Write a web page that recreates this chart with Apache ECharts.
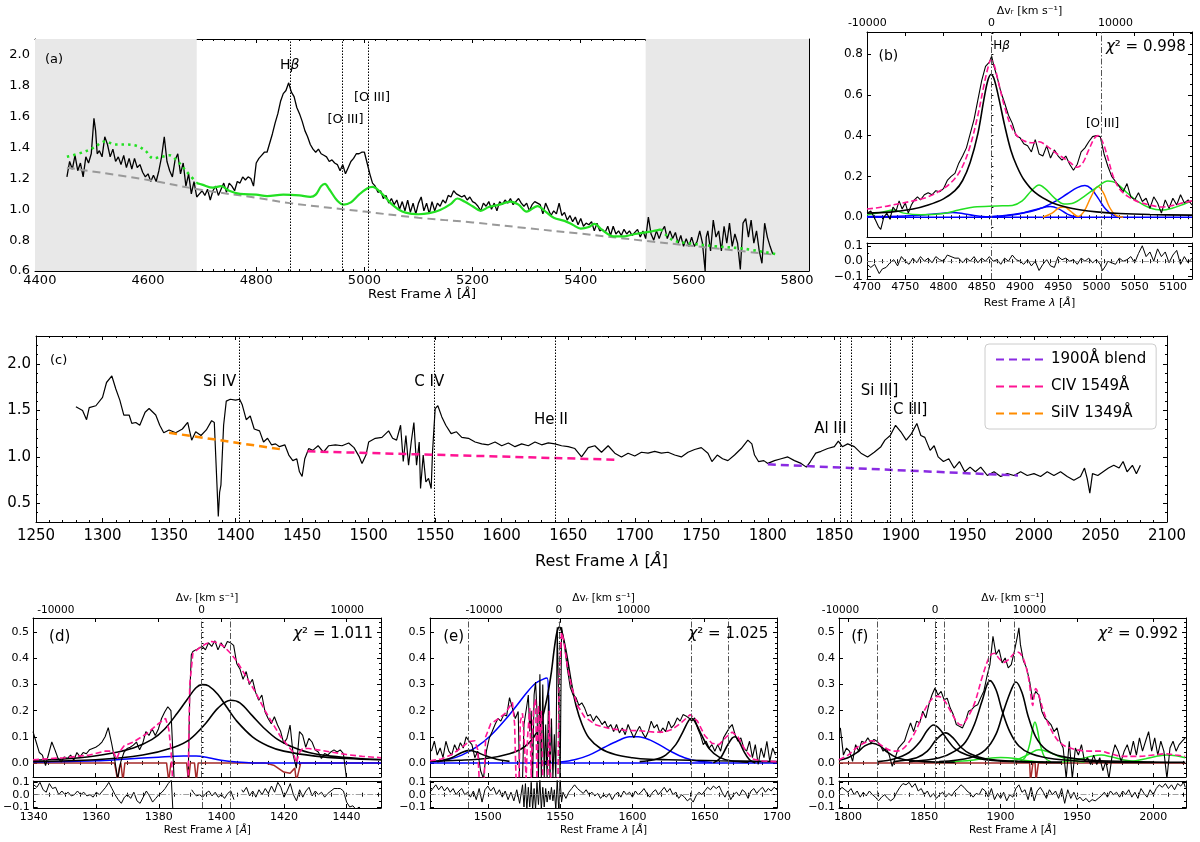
<!DOCTYPE html>
<html><head><meta charset="utf-8">
<script src="https://cdn.jsdelivr.net/npm/echarts@6/dist/echarts.min.js"></script>
<style>html,body{margin:0;padding:0;background:#fff}#c{width:1200px;height:842px}</style>
</head><body><div id="c"></div>
<script>
// ---------------- DATA ----------------
// Panel (a)
const A_XTICKS=[4400,4600,4800,5000,5200,5400,5600,5800];
const A_YTICKS=[0.6,0.8,1.0,1.2,1.4,1.6,1.8,2.0];
const A_LINES=[4862.68,4958.91,5006.84];
const A_MASKS=[[4391,4690],[5520,5822]];
const A_FLUX=[[4450,1.21],[4455,1.31],[4460,1.26],[4465,1.35],[4470,1.25],[4475,1.30],[4480,1.21],[4485,1.34],[4490,1.30],[4495,1.36],[4500,1.59],[4503,1.51],[4506,1.36],[4510,1.38],[4515,1.34],[4520,1.47],[4525,1.42],[4530,1.34],[4535,1.39],[4540,1.31],[4545,1.34],[4550,1.29],[4555,1.35],[4560,1.27],[4565,1.33],[4570,1.26],[4575,1.33],[4580,1.27],[4585,1.29],[4590,1.24],[4595,1.21],[4600,1.23],[4605,1.18],[4610,1.22],[4615,1.18],[4620,1.25],[4625,1.34],[4630,1.47],[4635,1.31],[4640,1.25],[4645,1.21],[4650,1.32],[4655,1.36],[4660,1.23],[4665,1.30],[4670,1.15],[4675,1.23],[4680,1.10],[4685,1.18],[4690,1.08],[4695,1.10],[4700,1.12],[4705,1.09],[4710,1.13],[4715,1.06],[4720,1.12],[4725,1.15],[4730,1.09],[4735,1.13],[4740,1.17],[4745,1.11],[4750,1.17],[4755,1.15],[4760,1.12],[4765,1.18],[4770,1.17],[4775,1.21],[4780,1.19],[4785,1.21],[4790,1.20],[4795,1.15],[4800,1.30],[4805,1.33],[4810,1.35],[4815,1.37],[4820,1.37],[4825,1.43],[4830,1.49],[4835,1.56],[4840,1.62],[4845,1.70],[4850,1.75],[4855,1.77],[4860,1.82],[4865,1.76],[4870,1.73],[4875,1.66],[4880,1.62],[4885,1.57],[4890,1.51],[4895,1.47],[4900,1.42],[4905,1.39],[4910,1.37],[4915,1.39],[4920,1.36],[4925,1.35],[4930,1.34],[4935,1.31],[4940,1.32],[4945,1.30],[4950,1.29],[4955,1.25],[4960,1.29],[4965,1.23],[4970,1.27],[4975,1.31],[4980,1.33],[4985,1.36],[4990,1.36],[4995,1.37],[5000,1.37],[5005,1.30],[5010,1.23],[5015,1.17],[5020,1.15],[5025,1.11],[5030,1.12],[5035,1.07],[5040,1.09],[5045,1.04],[5050,1.07],[5055,1.03],[5060,1.06],[5065,1.00],[5070,1.05],[5075,0.99],[5080,1.06],[5085,0.98],[5090,1.04],[5095,0.97],[5100,1.04],[5105,1.08],[5110,0.99],[5115,1.04],[5120,0.97],[5125,1.05],[5130,0.99],[5135,1.04],[5140,1.02],[5145,1.06],[5150,1.04],[5155,1.09],[5160,1.08],[5165,1.12],[5170,1.10],[5175,1.09],[5180,1.08],[5185,1.09],[5190,1.06],[5195,1.08],[5200,1.05],[5205,1.04],[5210,1.02],[5215,0.99],[5220,1.04],[5225,1.02],[5230,1.05],[5235,1.00],[5240,1.04],[5245,0.99],[5250,1.05],[5255,1.03],[5260,1.06],[5265,1.04],[5270,1.07],[5275,1.03],[5280,1.05],[5285,1.07],[5290,1.04],[5295,1.02],[5300,1.04],[5305,0.99],[5310,1.03],[5315,1.05],[5320,1.04],[5325,1.03],[5330,0.97],[5335,1.04],[5340,1.00],[5345,0.96],[5350,0.99],[5355,0.97],[5360,1.04],[5365,0.96],[5370,0.98],[5375,0.93],[5380,0.96],[5385,0.92],[5390,0.95],[5395,0.90],[5400,0.94],[5405,0.89],[5410,0.91],[5415,0.90],[5420,0.92],[5425,0.86],[5430,0.91],[5435,0.86],[5440,0.87],[5445,0.85],[5450,0.89],[5455,0.83],[5460,0.89],[5465,0.84],[5470,0.86],[5475,0.83],[5480,0.87],[5485,0.84],[5490,0.86],[5495,0.83],[5500,0.85],[5505,0.87],[5510,0.82],[5515,0.86],[5520,0.81],[5525,0.95],[5530,0.84],[5535,0.80],[5540,0.86],[5545,0.81],[5550,0.86],[5555,0.89],[5560,0.81],[5565,0.86],[5570,0.81],[5575,0.85],[5580,0.78],[5585,0.83],[5590,0.76],[5595,0.81],[5600,0.76],[5605,0.82],[5610,0.76],[5615,0.79],[5620,0.86],[5625,0.78],[5630,0.60],[5632,0.82],[5635,0.86],[5640,0.73],[5645,0.93],[5650,0.82],[5655,0.86],[5660,0.73],[5665,0.89],[5670,0.78],[5675,0.91],[5680,0.76],[5685,0.84],[5690,0.78],[5695,0.61],[5700,0.91],[5705,0.94],[5710,0.82],[5715,0.93],[5720,0.78],[5725,0.86],[5730,0.73],[5735,0.65],[5740,0.91],[5745,0.82],[5750,0.76],[5755,0.71]];
const A_CONT=[[4450,1.27],[4600,1.19],[4700,1.125],[4800,1.075],[4862,1.04],[5000,0.985],[5100,0.945],[5200,0.915],[5300,0.878],[5400,0.842],[5520,0.795],[5600,0.765],[5760,0.705]];
const A_FE=[[4690,1.17],[4700,1.16],[4720,1.14],[4735,1.15],[4750,1.12],[4770,1.10],[4800,1.095],[4820,1.085],[4850,1.095],[4880,1.09],[4900,1.08],[4910,1.095],[4920,1.15],[4927,1.165],[4935,1.13],[4950,1.055],[4962,1.03],[4975,1.045],[4990,1.095],[5005,1.135],[5015,1.145],[5030,1.11],[5050,1.035],[5070,0.985],[5090,0.97],[5100,0.968],[5120,0.975],[5140,0.995],[5160,1.035],[5172,1.07],[5185,1.05],[5200,1.02],[5215,0.99],[5230,1.015],[5250,1.03],[5270,1.05],[5285,1.03],[5300,0.985],[5320,1.02],[5335,0.985],[5350,0.945],[5370,0.925],[5385,0.90],[5400,0.875],[5415,0.885],[5425,0.905],[5440,0.865],[5460,0.825],[5480,0.825],[5500,0.84],[5520,0.85],[5535,0.86],[5548,0.87]];
const A_FE_L=[[4450,1.34],[4480,1.37],[4500,1.40],[4520,1.44],[4540,1.42],[4560,1.42],[4580,1.41],[4595,1.38],[4610,1.33],[4625,1.34],[4640,1.35],[4655,1.31],[4670,1.25],[4690,1.17]];
const A_FE_R=[[5548,0.87],[5570,0.80],[5600,0.78],[5650,0.76],[5700,0.745],[5760,0.71]];

// Panel (b)
const B_XTICKS=[4700,4750,4800,4850,4900,4950,5000,5050,5100];
const B_YTICKS=[0.0,0.2,0.4,0.6,0.8];
const RES_YTICKS=[-0.1,0.0,0.1];
const VEL_TICKS=[-10000,0,10000];
const B_LINES=[4862.68,5006.84];
const B_FLUX=[[4700,0.02],[4705,0.03],[4710,-0.005],[4715,-0.046],[4718,-0.06],[4722,0.0],[4726,0.02],[4730,-0.01],[4734,0.05],[4738,0.03],[4742,0.08],[4746,0.04],[4750,0.07],[4754,0.02],[4758,0.06],[4762,0.085],[4766,0.10],[4770,0.085],[4775,0.11],[4780,0.12],[4785,0.11],[4790,0.13],[4795,0.125],[4800,0.14],[4805,0.18],[4810,0.20],[4815,0.215],[4820,0.265],[4825,0.30],[4830,0.34],[4835,0.41],[4840,0.48],[4845,0.575],[4850,0.67],[4855,0.74],[4860,0.76],[4863,0.79],[4866,0.74],[4870,0.69],[4875,0.615],[4880,0.56],[4885,0.50],[4890,0.46],[4895,0.40],[4900,0.39],[4905,0.36],[4910,0.35],[4915,0.32],[4920,0.38],[4925,0.31],[4930,0.30],[4935,0.35],[4940,0.29],[4945,0.33],[4950,0.30],[4955,0.28],[4960,0.30],[4965,0.26],[4970,0.23],[4975,0.26],[4980,0.32],[4985,0.34],[4990,0.37],[4995,0.395],[5000,0.40],[5005,0.395],[5010,0.31],[5015,0.25],[5020,0.20],[5025,0.175],[5030,0.15],[5035,0.125],[5040,0.165],[5045,0.10],[5050,0.085],[5055,0.12],[5060,0.077],[5065,0.093],[5070,0.044],[5075,0.10],[5080,0.07],[5085,0.02],[5090,0.085],[5095,0.044],[5100,0.093],[5105,0.06],[5110,0.11],[5115,0.07],[5120,0.085],[5125,0.06]];
const B_MODEL=[[4700,0.04],[4720,0.05],[4740,0.065],[4760,0.08],[4780,0.1],[4800,0.14],[4815,0.19],[4825,0.25],[4835,0.35],[4845,0.5],[4852,0.63],[4858,0.73],[4862,0.77],[4866,0.75],[4872,0.66],[4880,0.54],[4888,0.45],[4896,0.4],[4905,0.375],[4915,0.365],[4925,0.37],[4935,0.35],[4945,0.32],[4955,0.295],[4965,0.27],[4975,0.245],[4982,0.265],[4990,0.33],[4997,0.385],[5002,0.4],[5008,0.37],[5015,0.29],[5022,0.2],[5030,0.14],[5040,0.105],[5055,0.075],[5070,0.06],[5085,0.05],[5100,0.058],[5115,0.072],[5125,0.08]];
const B_HBETA=[[4700,0.02],[4730,0.025],[4760,0.04],[4780,0.06],[4800,0.09],[4815,0.13],[4825,0.18],[4835,0.27],[4845,0.41],[4853,0.58],[4858,0.67],[4862,0.70],[4866,0.68],[4872,0.59],[4880,0.45],[4888,0.33],[4896,0.25],[4905,0.185],[4920,0.12],[4940,0.075],[4960,0.05],[4980,0.035],[5000,0.026],[5030,0.018],[5070,0.013],[5125,0.01]];
const B_FE=[[4700,0.012],[4720,0.025],[4735,0.035],[4748,0.02],[4770,0.012],[4800,0.018],[4820,0.035],[4840,0.05],[4870,0.055],[4890,0.058],[4903,0.08],[4915,0.13],[4925,0.158],[4933,0.14],[4945,0.095],[4958,0.065],[4970,0.07],[4985,0.105],[5000,0.145],[5015,0.178],[5025,0.17],[5040,0.12],[5055,0.075],[5070,0.045],[5085,0.035],[5100,0.045],[5115,0.065],[5125,0.08]];
const B_BLUE1=[[4700,0.003],[4750,0.006],[4780,0.013],[4800,0.02],[4812,0.023],[4825,0.018],[4840,0.008],[4855,0.002],[4870,0]];
const B_BLUE2=[[4850,0],[4875,0.005],[4900,0.017],[4925,0.04],[4945,0.075],[4962,0.115],[4975,0.145],[4985,0.155],[4993,0.14],[5002,0.095],[5012,0.04],[5022,0.01],[5035,0]];
const B_BLUE3=[[4850,0],[4880,0.008],[4905,0.022],[4925,0.042],[4940,0.052],[4950,0.042],[4962,0.015],[4972,0.002],[4980,0]];
const B_BLUE0=[[4700,0],[5125,0]];
const B_OIII=[[4930,0],[4942,0.02],[4952,0.048],[4958,0.05],[4966,0.03],[4976,0.004],[4984,0.03],[4993,0.1],[5002,0.15],[5009,0.12],[5017,0.05],[5025,0.01],[5035,0]];
const B_RESID=[[4700,-0.02],[4705,-0.04],[4710,-0.02],[4716,-0.08],[4720,-0.05],[4725,-0.04],[4730,-0.01],[4735,0.01],[4740,-0.03],[4745,0.03],[4750,0.0],[4755,-0.02],[4760,0.02],[4765,-0.01],[4770,0.03],[4775,0.0],[4780,0.02],[4785,-0.01],[4790,0.03],[4795,0.01],[4800,0.0],[4805,0.04],[4810,0.03],[4815,0.02],[4820,0.02],[4825,-0.01],[4830,0.02],[4835,0.0],[4840,0.03],[4845,-0.01],[4850,0.02],[4855,0.0],[4860,0.03],[4865,0.0],[4870,0.01],[4875,-0.02],[4880,0.02],[4885,0.0],[4890,0.04],[4895,0.01],[4900,0.0],[4905,-0.02],[4910,0.01],[4915,-0.03],[4920,0.0],[4925,-0.06],[4930,-0.02],[4935,0.01],[4940,-0.03],[4945,-0.04],[4950,0.03],[4955,0.01],[4960,0.02],[4965,0.0],[4970,0.01],[4975,-0.02],[4980,0.02],[4985,0.0],[4990,0.02],[4995,-0.01],[5000,0.01],[5005,-0.02],[5008,-0.06],[5012,-0.03],[5015,0.0],[5020,-0.01],[5025,-0.02],[5030,0.02],[5035,0.0],[5040,0.01],[5045,0.03],[5050,-0.01],[5055,0.05],[5060,0.1],[5065,0.03],[5070,0.06],[5075,0.0],[5080,0.08],[5085,0.03],[5090,0.06],[5095,-0.01],[5100,0.04],[5105,0.07],[5110,-0.02],[5115,0.03],[5120,-0.01],[5125,0.02]];

// Panel (c)
const C_XTICKS=[1250,1300,1350,1400,1450,1500,1550,1600,1650,1700,1750,1800,1850,1900,1950,2000,2050,2100];
const C_YTICKS=[0.5,1.0,1.5,2.0];
const C_LINES=[1402.77,1549.06,1640.42,1854.72,1862.79,1892.03,1908.73];
const C_FLUX=[[1280,1.54],[1285,1.50],[1288,1.40],[1290,1.53],[1295,1.55],[1300,1.64],[1303,1.80],[1307,1.87],[1310,1.73],[1313,1.61],[1316,1.45],[1320,1.45],[1322,1.36],[1325,1.37],[1328,1.34],[1332,1.48],[1335,1.52],[1340,1.45],[1343,1.34],[1346,1.26],[1350,1.29],[1355,1.26],[1360,1.30],[1364,1.37],[1367,1.18],[1370,1.27],[1374,1.23],[1378,1.29],[1382,1.39],[1384,1.37],[1386,0.70],[1387,0.36],[1388,0.62],[1389,0.70],[1391,1.34],[1393,1.60],[1396,1.62],[1400,1.61],[1403,1.62],[1405,1.56],[1408,1.40],[1411,1.44],[1414,1.30],[1418,1.28],[1421,1.16],[1424,1.20],[1427,1.13],[1430,1.14],[1433,1.11],[1437,1.13],[1440,1.02],[1443,0.96],[1446,0.98],[1448,0.84],[1450,0.79],[1452,0.98],[1455,1.09],[1458,1.07],[1462,1.12],[1466,1.05],[1470,1.12],[1475,1.13],[1480,1.12],[1485,1.15],[1489,1.10],[1493,1.00],[1495,0.93],[1498,1.02],[1500,1.16],[1505,1.20],[1510,1.21],[1515,1.28],[1518,1.20],[1521,1.18],[1524,1.34],[1526,0.95],[1528,1.23],[1530,0.91],[1532,1.16],[1534,1.37],[1536,0.91],[1538,1.16],[1539,0.66],[1541,1.02],[1543,0.73],[1545,0.77],[1547,0.66],[1548,1.05],[1550,1.52],[1552,1.55],[1555,1.43],[1558,1.34],[1562,1.25],[1566,1.27],[1570,1.21],[1575,1.20],[1580,1.16],[1585,1.14],[1590,1.13],[1595,1.16],[1600,1.12],[1605,1.15],[1610,1.11],[1615,1.14],[1620,1.12],[1625,1.16],[1630,1.13],[1635,1.15],[1640,1.14],[1645,1.12],[1650,1.11],[1655,1.09],[1660,1.00],[1665,1.10],[1670,1.12],[1675,1.05],[1680,1.12],[1685,1.04],[1690,1.00],[1695,1.04],[1700,1.01],[1705,1.05],[1710,1.04],[1715,1.06],[1720,1.04],[1725,1.05],[1730,1.02],[1735,1.00],[1740,1.05],[1745,1.08],[1750,1.10],[1755,1.04],[1758,0.95],[1762,1.02],[1766,0.98],[1770,0.96],[1775,1.02],[1780,1.09],[1785,1.18],[1788,1.14],[1790,1.02],[1793,0.95],[1797,0.96],[1800,0.93],[1805,0.96],[1810,0.98],[1815,1.00],[1820,0.96],[1825,0.93],[1829,0.89],[1832,0.95],[1836,1.04],[1840,1.06],[1845,1.09],[1850,1.11],[1853,1.17],[1856,1.11],[1860,1.14],[1865,1.11],[1870,1.04],[1875,1.00],[1880,1.05],[1885,1.11],[1888,1.18],[1892,1.23],[1896,1.34],[1900,1.27],[1904,1.18],[1908,1.25],[1912,1.36],[1915,1.23],[1918,1.21],[1922,1.07],[1925,1.12],[1928,1.00],[1932,0.95],[1936,0.98],[1940,0.88],[1944,0.95],[1948,0.84],[1952,0.89],[1956,0.84],[1960,0.89],[1965,0.80],[1970,0.84],[1975,0.79],[1980,0.82],[1985,0.80],[1990,0.84],[1995,0.80],[2000,0.82],[2005,0.79],[2010,0.84],[2015,0.80],[2020,0.84],[2025,0.79],[2030,0.75],[2035,0.79],[2038,0.88],[2040,0.77],[2042,0.61],[2044,0.82],[2048,0.80],[2052,0.84],[2056,0.88],[2060,0.91],[2064,0.88],[2067,0.95],[2070,0.84],[2074,0.91],[2077,0.82],[2080,0.91]];
const C_SIIV_CONT=[[1350,1.26],[1435,1.08]];
const C_CIV_CONT=[[1454,1.06],[1686,0.97]];
const C_BLEND_CONT=[[1800,0.92],[1988,0.80]];

// Panel (d)
const D_XTICKS=[1340,1360,1380,1400,1420,1440];
const DEF_YTICKS=[0.0,0.1,0.2,0.3,0.4,0.5];
const D_LINES=[1393.76,1402.77];
const D_FLUX=[[1340,0.12],[1341,0.08],[1342,0.04],[1343,0.03],[1344,-0.01],[1345,0.035],[1346,0.08],[1347,0.05],[1348,0.017],[1349,0.004],[1350,0.023],[1351,0.017],[1352,0.03],[1353,0.01],[1354,0.04],[1355,0.023],[1356,0.04],[1357,0.035],[1358,0.05],[1359,0.055],[1360,0.06],[1361,0.068],[1362,0.08],[1363,0.10],[1364,0.135],[1365,0.08],[1366,0.017],[1367,-0.06],[1368,0.004],[1369,0.04],[1370,0.055],[1371,0.06],[1372,0.068],[1373,0.08],[1374,0.05],[1375,0.075],[1376,0.12],[1377,0.105],[1378,0.13],[1379,0.105],[1380,0.13],[1381,0.17],[1382,0.195],[1383,0.215],[1384,0.20],[1385,-0.06],[1389.5,-0.06],[1390,0.26],[1390.5,0.414],[1391,0.427],[1392,0.433],[1393,0.44],[1394,0.446],[1395,0.433],[1396,0.46],[1397,0.446],[1398,0.468],[1399,0.433],[1400,0.46],[1401,0.44],[1402,0.465],[1403,0.46],[1404,0.45],[1405,0.38],[1406,0.36],[1407,0.32],[1408,0.35],[1409,0.30],[1410,0.32],[1411,0.27],[1412,0.24],[1413,0.26],[1414,0.196],[1415,0.17],[1416,0.15],[1417,0.177],[1418,0.145],[1419,0.12],[1420,0.074],[1421,0.094],[1422,0.145],[1423,0.03],[1424,-0.02],[1425,0.12],[1426,0.106],[1427,0.06],[1428,0.094],[1429,0.08],[1430,0.05],[1431,0.042],[1432,0.017],[1433,0.036],[1434,0.03],[1435,0.042],[1436,0.05],[1437,0.042],[1438,0.05],[1439,0.036],[1440,-0.06],[1451,-0.06]];
const D_MODEL=[[1340,0.012],[1350,0.02],[1358,0.03],[1363,0.045],[1365.5,0.045],[1366.7,0.015],[1367.5,0.04],[1369,0.065],[1372,0.08],[1376,0.11],[1380,0.15],[1382.3,0.17],[1383.3,0.13],[1384,0.05],[1384.5,-0.06],[1389.5,-0.06],[1390,0.3],[1391,0.42],[1393,0.44],[1395,0.455],[1397,0.465],[1399,0.46],[1401,0.445],[1403,0.42],[1405,0.39],[1408,0.33],[1411,0.27],[1414,0.2],[1417,0.14],[1419,0.1],[1421,0.07],[1423,0.04],[1424,0.0],[1425,0.04],[1426,0.055],[1428,0.055],[1432,0.048],[1436,0.04],[1440,0.032],[1445,0.025],[1451,0.02]];
const D_SIIV1=[[1340,0.01],[1355,0.02],[1365,0.037],[1372,0.057],[1378,0.09],[1382,0.13],[1386,0.19],[1389,0.24],[1392,0.288],[1394,0.30],[1396,0.295],[1399,0.262],[1402,0.21],[1405,0.16],[1410,0.10],[1415,0.065],[1420,0.045],[1430,0.026],[1440,0.017],[1451,0.012]];
const D_SIIV2=[[1340,0.005],[1360,0.012],[1375,0.03],[1385,0.06],[1390,0.09],[1395,0.15],[1399,0.21],[1403,0.24],[1406,0.23],[1410,0.18],[1414,0.13],[1418,0.09],[1422,0.065],[1428,0.04],[1435,0.026],[1445,0.016],[1451,0.013]];
const D_BLUE=[[1340,0.003],[1360,0.008],[1370,0.015],[1380,0.022],[1388,0.026],[1392,0.026],[1396,0.02],[1400,0.01],[1405,0.003],[1410,0.0],[1451,0.0]];
const D_ABS=[[1340,0],[1366,0],[1366.6,-0.04],[1367,-0.07],[1367.5,-0.02],[1368,0],[1368.7,-0.07],[1369.3,0],[1382.6,0],[1383.3,-0.07],[1384,0],[1389,0],[1389.6,-0.07],[1390.2,0],[1391.5,0],[1392.1,-0.07],[1392.7,0],[1414,0],[1417,-0.01],[1420,-0.035],[1422,-0.04],[1423.5,-0.02],[1424,-0.07],[1424.6,-0.07],[1425.4,0],[1451,0]];
const D_RESID=[[1340,0.08],[1341,0.06],[1342,0.1],[1343,0.04],[1344,0.02],[1345,0.09],[1346,0.05],[1347,0.06],[1348,0.0],[1349,0.03],[1350,0.0],[1351,0.02],[1352,-0.01],[1353,0.0],[1354,0.03],[1355,0.0],[1356,0.02],[1357,-0.01],[1358,0.0],[1359,-0.02],[1360,0.02],[1361,0.0],[1362,0.03],[1363,0.06],[1364,0.1],[1365,0.05],[1366,0.0],[1367,-0.04],[1368,-0.07],[1369,-0.02],[1370,0.0],[1371,-0.03],[1372,0.02],[1373,-0.05],[1374,-0.07],[1375,-0.02],[1376,0.03],[1377,-0.01],[1378,-0.06],[1379,-0.03],[1380,0.0],[1381,0.02],[1382,0.05],[1383,0.09],[1384,0.12],[1384.5,-0.14],[1385,null],[1390,null],[1390.5,0.04],[1391,0.02],[1392,-0.01],[1393,0.0],[1394,-0.02],[1395,0.01],[1396,0.03],[1397,-0.01],[1398,0.02],[1399,-0.02],[1400,0.0],[1401,-0.03],[1402,0.01],[1403,0.03],[1404,-0.04],[1404.5,null],[1406,null],[1406.5,0.04],[1407,0.02],[1408,0.06],[1409,-0.01],[1410,0.03],[1411,-0.02],[1412,0.04],[1413,0.0],[1414,0.05],[1415,0.01],[1416,0.07],[1417,0.02],[1418,0.1],[1419,0.06],[1420,-0.02],[1421,0.03],[1422,0.09],[1423,0.0],[1424,-0.05],[1425,0.04],[1426,-0.02],[1427,0.03],[1428,0.06],[1429,-0.01],[1430,0.03],[1431,0.0],[1432,0.02],[1433,-0.02],[1434,0.01],[1435,0.03],[1436,0.05],[1437,0.05],[1438,0.05],[1439,0.03],[1440,-0.06],[1441,-0.1],[1442,-0.09],[1443,-0.12],[1444,-0.1],[1445,-0.13],[1447,-0.13]];

// Panel (e)
const E_XTICKS=[1500,1550,1600,1650,1700];
const E_LINES=[1486.5,1549.06,1640.42,1666.15];
const E_FLUX=[[1461,0.045],[1463,0.083],[1465,0.03],[1467,0.057],[1469,0.02],[1471,0.083],[1473,0.045],[1475,0.03],[1477,0.07],[1479,0.045],[1481,0.077],[1483,0.057],[1485,0.10],[1487,0.083],[1489,0.07],[1491,0.02],[1493,0.045],[1495,-0.03],[1497,-0.06],[1499,0.045],[1501,0.095],[1503,0.12],[1505,0.147],[1507,0.17],[1509,0.16],[1511,0.185],[1513,0.18],[1515,0.25],[1517,0.21],[1519,0.17],[1521,0.197],[1522,-0.06],[1524,-0.06],[1525,0.147],[1527,0.22],[1528,0.26],[1529,0.12],[1530,0.2],[1531,-0.06],[1532,0.26],[1533,0.31],[1534,0.2],[1535,-0.06],[1536,0.34],[1537,-0.06],[1538,0.30],[1539,-0.06],[1540,0.147],[1541,-0.06],[1542,0.26],[1543,-0.06],[1544,0.17],[1545,-0.06],[1546,0.11],[1547,-0.06],[1548,0.52],[1549,0.52],[1550,-0.06],[1551,0.52],[1552,0.523],[1553,0.45],[1555,0.36],[1557,0.29],[1559,0.26],[1561,0.25],[1563,0.22],[1565,0.23],[1567,0.21],[1569,0.18],[1571,0.185],[1573,0.16],[1575,0.18],[1577,0.166],[1579,0.147],[1581,0.16],[1583,0.134],[1585,0.147],[1587,0.12],[1589,0.147],[1591,0.115],[1593,0.134],[1595,0.108],[1597,0.147],[1599,0.12],[1601,0.096],[1603,0.12],[1605,0.14],[1607,0.115],[1609,0.096],[1611,0.12],[1613,0.16],[1615,0.134],[1617,0.147],[1619,0.115],[1621,0.134],[1623,0.12],[1625,0.16],[1627,0.134],[1629,0.147],[1631,0.172],[1633,0.16],[1635,0.185],[1637,0.18],[1639,0.172],[1641,0.16],[1643,0.172],[1645,0.134],[1647,0.108],[1649,0.07],[1651,0.083],[1653,0.057],[1655,0.07],[1657,0.045],[1659,0.07],[1661,0.045],[1663,0.096],[1665,0.115],[1667,0.134],[1669,0.147],[1671,0.108],[1673,0.083],[1675,0.096],[1677,0.057],[1679,0.045],[1681,0.083],[1683,0.02],[1685,0.07],[1687,-0.006],[1689,0.057],[1691,0.02],[1693,0.083],[1695,0.006],[1697,0.057],[1699,0.03]];
const E_MODEL=[[1460,0.008],[1468,0.015],[1476,0.035],[1482,0.06],[1487,0.082],[1491,0.085],[1493,0.05],[1494,-0.06],[1497.5,-0.06],[1498.5,0.1],[1502,0.15],[1507,0.168],[1512,0.19],[1515,0.215],[1517,0.232],[1518.5,0.15],[1519.5,-0.06],[1521.5,-0.06],[1522.5,0.16],[1524,0.19],[1525.5,0.05],[1526.5,-0.06],[1527.5,0.1],[1529,0.21],[1530,-0.06],[1531.5,0.2],[1533,0.245],[1534,-0.06],[1535,0.22],[1536,0.08],[1537,0.2],[1538,-0.06],[1541.5,-0.06],[1542.5,0.2],[1543.5,-0.06],[1548.5,-0.06],[1549.5,0.35],[1551,0.5],[1552.5,0.47],[1555,0.37],[1558,0.29],[1562,0.22],[1567,0.175],[1575,0.145],[1585,0.13],[1595,0.125],[1605,0.123],[1615,0.118],[1622,0.118],[1628,0.13],[1634,0.155],[1640,0.185],[1645,0.16],[1650,0.105],[1655,0.075],[1660,0.07],[1665,0.1],[1669,0.118],[1673,0.1],[1678,0.05],[1683,0.015],[1690,0.007],[1700,0.005]];
const E_CIV=[[1460,0.006],[1480,0.01],[1500,0.018],[1515,0.035],[1525,0.06],[1532,0.1],[1537,0.16],[1541,0.25],[1544,0.35],[1546,0.44],[1548,0.505],[1549.5,0.52],[1551,0.505],[1553,0.46],[1555,0.4],[1558,0.3],[1561,0.22],[1565,0.15],[1570,0.095],[1578,0.055],[1588,0.032],[1600,0.02],[1612,0.014],[1625,0.012],[1640,0.01],[1660,0.008],[1700,0.005]];
const E_NIV=[[1465,0.005],[1475,0.02],[1482,0.04],[1487,0.048],[1492,0.042],[1498,0.028],[1506,0.014],[1515,0.006]];
const E_HEII=[[1605,0.005],[1615,0.012],[1623,0.03],[1630,0.07],[1635,0.12],[1639,0.163],[1641,0.17],[1644,0.15],[1648,0.105],[1653,0.055],[1660,0.022],[1668,0.008],[1680,0.003]];
const E_OIII=[[1656,0],[1661,0.02],[1665,0.06],[1669,0.095],[1671,0.1],[1674,0.08],[1677,0.045],[1681,0.012],[1685,0]];
const E_BLUE1=[[1460,0.003],[1472,0.012],[1482,0.03],[1492,0.06],[1502,0.105],[1512,0.165],[1520,0.22],[1527,0.27],[1533,0.305],[1538,0.32],[1541,0.325],[1542,0.25],[1542.7,0.08],[1543.3,0.0]];
const E_BLUE2=[[1550,0.003],[1560,0.012],[1570,0.03],[1580,0.058],[1590,0.085],[1598,0.1],[1604,0.1],[1612,0.088],[1620,0.065],[1628,0.04],[1636,0.02],[1645,0.007],[1655,0.002]];
const E_BASE=[[1460,0],[1700,0]];
const E_RESID=[[1460,0.02],[1462,0.05],[1464,0.08],[1466,0.04],[1468,0.07],[1470,0.03],[1472,0.06],[1474,0.02],[1476,0.05],[1478,0.0],[1480,0.03],[1482,0.05],[1484,0.0],[1486,0.02],[1488,-0.02],[1490,0.03],[1492,-0.04],[1494,0.05],[1496,-0.06],[1498,0.04],[1500,0.07],[1502,0.03],[1504,0.06],[1506,0.0],[1508,0.04],[1510,-0.02],[1512,0.03],[1514,-0.04],[1516,0.02],[1518,-0.05],[1520,0.04],[1522,-0.07],[1524,0.08],[1525,-0.1],[1526,0.09],[1527,-0.12],[1528,0.06],[1529,-0.1],[1530,0.1],[1531,-0.12],[1532,0.05],[1533,-0.12],[1534,0.1],[1535,-0.08],[1536,0.12],[1537,-0.12],[1538,0.06],[1539,-0.1],[1540,0.05],[1541,-0.06],[1542,0.03],[1543,-0.04],[1544,0.06],[1545,-0.05],[1546,0.04],[1547,-0.12],[1548,0.12],[1549,-0.12],[1550,0.12],[1551,-0.06],[1552,0.02],[1554,-0.03],[1556,0.02],[1558,0.05],[1560,0.08],[1562,0.05],[1564,0.03],[1566,0.01],[1568,0.04],[1570,0.0],[1572,0.02],[1574,-0.01],[1576,0.01],[1578,-0.03],[1580,0.0],[1582,-0.02],[1584,0.01],[1586,-0.04],[1588,0.0],[1590,0.02],[1592,-0.02],[1594,0.03],[1596,0.0],[1598,0.02],[1600,-0.02],[1602,0.03],[1604,0.0],[1606,0.02],[1608,0.05],[1610,0.01],[1612,-0.02],[1614,0.02],[1616,0.04],[1618,0.0],[1620,0.03],[1622,0.06],[1624,0.02],[1626,0.05],[1628,0.0],[1630,0.02],[1632,-0.03],[1634,0.0],[1636,-0.02],[1638,-0.05],[1640,-0.03],[1642,-0.06],[1644,-0.01],[1646,0.02],[1648,0.0],[1650,0.03],[1652,0.06],[1654,0.04],[1656,0.07],[1658,0.05],[1660,0.07],[1662,0.02],[1664,-0.02],[1666,0.03],[1668,-0.04],[1670,0.0],[1672,0.02],[1674,-0.01],[1676,0.04],[1678,0.02],[1680,-0.03],[1682,0.03],[1684,0.05],[1686,0.01],[1688,0.04],[1690,0.06],[1692,0.02],[1694,0.05],[1696,0.03],[1698,0.06],[1700,0.04]];

// Panel (f)
const F_XTICKS=[1800,1850,1900,1950,2000];
const F_LINES=[1819.0,1857.0,1863.0,1892.03,1908.73];
const F_FLUX=[[1795,0.134],[1797,0.03],[1799,0.057],[1801,0.045],[1803,0.006],[1805,0.07],[1807,0.045],[1809,0.083],[1811,0.077],[1813,0.096],[1815,0.077],[1817,0.09],[1819,0.083],[1821,0.07],[1823,0.045],[1825,0.057],[1827,0.03],[1829,-0.013],[1831,0.02],[1833,0.057],[1835,0.07],[1837,0.083],[1839,0.12],[1841,0.153],[1843,0.12],[1845,0.16],[1847,0.153],[1849,0.198],[1851,0.172],[1853,0.223],[1855,0.26],[1857,0.287],[1859,0.26],[1861,0.274],[1863,0.242],[1865,0.248],[1867,0.21],[1869,0.185],[1871,0.147],[1873,0.14],[1875,0.134],[1877,0.16],[1879,0.198],[1881,0.204],[1883,0.217],[1885,0.223],[1887,0.25],[1889,0.274],[1891,0.33],[1893,0.376],[1895,0.485],[1897,0.415],[1899,0.434],[1901,0.383],[1903,0.402],[1905,0.364],[1907,0.376],[1909,0.427],[1911,0.485],[1912,0.517],[1913,0.453],[1915,0.39],[1917,0.364],[1919,0.313],[1921,0.242],[1923,0.274],[1925,0.26],[1927,0.198],[1929,0.172],[1931,0.16],[1933,0.147],[1935,0.12],[1937,0.134],[1939,0.083],[1941,0.057],[1943,-0.06],[1945,0.083],[1947,-0.06],[1949,0.057],[1951,0.03],[1953,0.07],[1955,0.006],[1957,0.02],[1959,-0.006],[1961,0.03],[1963,-0.006],[1965,0.02],[1967,-0.03],[1969,0.006],[1971,-0.06],[1973,0.025],[1975,0.07],[1977,0.045],[1979,0.006],[1981,0.045],[1983,0.07],[1985,0.03],[1987,0.083],[1989,0.03],[1991,0.096],[1993,0.045],[1995,0.083],[1997,0.12],[1999,0.045],[2001,0.096],[2003,0.03],[2005,0.083],[2007,0.045],[2009,-0.06],[2011,0.057],[2013,0.083],[2015,0.045],[2017,0.07],[2019,0.083],[2021,0.096]];
const F_MODEL=[[1794,0.012],[1800,0.03],[1806,0.06],[1812,0.08],[1816,0.085],[1820,0.075],[1825,0.055],[1830,0.045],[1835,0.05],[1840,0.08],[1845,0.13],[1850,0.2],[1855,0.245],[1859,0.255],[1863,0.24],[1867,0.2],[1871,0.16],[1874,0.145],[1878,0.17],[1883,0.23],[1888,0.33],[1893,0.41],[1896,0.42],[1899,0.40],[1902,0.385],[1905,0.395],[1909,0.42],[1911,0.425],[1914,0.41],[1917,0.36],[1919,0.3],[1920,0.25],[1921,0.22],[1922,0.26],[1923,0.285],[1925,0.26],[1928,0.2],[1932,0.14],[1937,0.09],[1942,0.065],[1950,0.05],[1958,0.045],[1965,0.045],[1972,0.035],[1980,0.025],[1990,0.025],[2000,0.03],[2008,0.035],[2015,0.03],[2021,0.025]];
const F_C1=[[1794,0.01],[1800,0.02],[1806,0.04],[1811,0.065],[1816,0.075],[1821,0.065],[1826,0.04],[1832,0.02],[1840,0.01],[1850,0.005],[1870,0.002]];
const F_C2=[[1820,0.005],[1830,0.015],[1840,0.04],[1847,0.08],[1852,0.125],[1856,0.145],[1860,0.13],[1865,0.09],[1870,0.055],[1878,0.03],[1890,0.012],[1910,0.005],[1940,0.002]];
const F_C3=[[1830,0.005],[1845,0.02],[1852,0.045],[1858,0.09],[1864,0.115],[1869,0.095],[1874,0.06],[1880,0.035],[1890,0.016],[1910,0.006],[1940,0.002]];
const F_C4=[[1840,0.005],[1860,0.02],[1870,0.045],[1877,0.08],[1883,0.15],[1888,0.24],[1893,0.315],[1897,0.28],[1901,0.2],[1906,0.12],[1912,0.065],[1920,0.035],[1935,0.015],[1960,0.005],[2000,0.002]];
const F_C5=[[1860,0.005],[1880,0.02],[1890,0.05],[1897,0.11],[1902,0.2],[1907,0.28],[1910,0.31],[1914,0.27],[1918,0.18],[1923,0.1],[1930,0.05],[1940,0.025],[1960,0.01],[1990,0.004],[2021,0.002]];
const F_G1=[[1912,0.004],[1916,0.02],[1919,0.07],[1921,0.13],[1922.5,0.157],[1924,0.13],[1926,0.07],[1929,0.02],[1933,0.004]];
const F_G2=[[1905,0.005],[1912,0.015],[1919,0.035],[1925,0.05],[1931,0.043],[1938,0.025],[1946,0.01],[1955,0.003]];
const F_G3=[[1860,0.002],[1875,0.007],[1888,0.015],[1900,0.021],[1910,0.017],[1918,0.008],[1928,0.003]];
const F_G4=[[1940,0.003],[1952,0.015],[1960,0.026],[1966,0.03],[1972,0.024],[1980,0.012],[1990,0.004]];
const F_G5=[[1985,0.004],[1995,0.016],[2003,0.026],[2009,0.03],[2015,0.027],[2021,0.02]];
const F_ABS=[[1794,0],[1919,0],[1919.6,-0.07],[1920.6,-0.07],[1921.2,0],[1922.6,0],[1923.2,-0.07],[1924.2,-0.07],[1924.8,0],[2021,0]];
const F_RESID=[[1794,0.03],[1796,0.06],[1798,0.04],[1800,0.02],[1802,0.05],[1804,0.0],[1806,0.03],[1808,-0.02],[1810,0.02],[1812,-0.01],[1814,0.03],[1816,0.0],[1818,-0.02],[1820,-0.05],[1822,-0.02],[1824,0.0],[1826,-0.03],[1828,-0.05],[1830,-0.03],[1832,0.02],[1834,0.06],[1836,0.09],[1838,0.08],[1840,0.1],[1842,0.06],[1844,0.09],[1846,0.03],[1848,0.05],[1850,0.0],[1852,0.03],[1854,-0.02],[1856,0.01],[1858,-0.03],[1860,0.0],[1862,0.02],[1864,-0.02],[1866,0.01],[1868,-0.01],[1870,0.03],[1872,0.05],[1874,0.08],[1876,0.06],[1878,0.03],[1880,0.01],[1882,-0.02],[1884,0.01],[1886,0.0],[1888,0.05],[1890,0.03],[1892,-0.02],[1894,0.05],[1896,-0.04],[1898,0.01],[1900,-0.03],[1902,0.02],[1904,-0.05],[1906,0.0],[1908,-0.02],[1910,0.05],[1912,0.08],[1914,0.02],[1916,0.04],[1918,-0.04],[1920,0.06],[1922,-0.05],[1924,0.03],[1926,0.06],[1928,0.02],[1930,-0.03],[1932,0.04],[1934,0.0],[1936,0.03],[1938,-0.03],[1940,0.05],[1942,-0.07],[1944,0.04],[1946,-0.03],[1948,0.02],[1950,-0.04],[1952,-0.02],[1954,-0.05],[1956,-0.03],[1958,-0.06],[1960,-0.04],[1962,-0.05],[1964,-0.03],[1966,-0.01],[1968,0.02],[1970,-0.02],[1972,0.03],[1974,0.0],[1976,0.02],[1978,-0.02],[1980,0.03],[1982,0.0],[1984,0.04],[1986,-0.02],[1988,0.02],[1990,-0.03],[1992,0.05],[1994,0.01],[1996,-0.02],[1998,0.04],[2000,0.0],[2002,0.05],[2004,0.08],[2006,0.06],[2008,0.09],[2010,0.05],[2012,0.08],[2014,0.04],[2016,0.09],[2018,0.07],[2020,0.1],[2021,0.06]];

// ---------------- BUILD ----------------
const FONT='DejaVu Sans';
const C_KMS=299792.458;
const BLACK='#000', GREEN='#22e022', BLUE='#0000ff', ORANGE='#ff8c00', PINK='#ff1493', PURPLE='#8a2be2', BROWN='#a52a2a';
const grids=[], xAxes=[], yAxes=[], series=[], NOTES=[];
function rng(min,max,step){const o=[];for(let k=Math.ceil(min/step-1e-9);k*step<=max+1e-9;k++){o.push(+(k*step).toFixed(6));}return o;}
const f1=v=>(v<0?'\u2212':'')+Math.abs(v).toFixed(1);
function rich(fs){return {i:{fontSize:fs,fontStyle:'italic',fill:BLACK,color:BLACK,fontFamily:FONT}};}
const XNAME='Rest Frame {i|\u03bb} [{i|\u00c5}]';
function addPanel(p){
  const gi=grids.length;
  grids.push({left:p.left,top:p.top,width:p.width,height:p.height,containLabel:false});
  const line={show:true,onZero:false,lineStyle:{color:BLACK,width:1}};
  const base={gridIndex:gi,type:'value',splitLine:{show:false},axisPointer:{show:false}};
  const xb=Object.assign({},base,{min:p.xmin,max:p.xmax});
  const yb=Object.assign({},base,{min:p.ymin,max:p.ymax});
  const tk=(vals,len)=>({show:true,inside:true,length:len,customValues:vals,lineStyle:{color:BLACK,width:1}});
  const xMin=rng(p.xmin,p.xmax,p.xminor), yMin=rng(p.ymin,p.ymax,p.yminor);
  const xi=xAxes.length;
  xAxes.push(Object.assign({},xb,{position:'bottom',axisLine:line,axisTick:tk(p.xticks,4),
    axisLabel:{show:!!p.xlabel,customValues:p.xticks,margin:p.xm||3,fontSize:p.xfs||11,color:BLACK,fontFamily:FONT,formatter:v=>String(v)},
    name:p.xlabel?XNAME:'',nameLocation:'middle',nameGap:p.xng||18,nameTextStyle:{fontSize:p.xnfs||11,color:BLACK,fontFamily:FONT,rich:rich(p.xnfs||11)}}));
  xAxes.push(Object.assign({},xb,{position:'bottom',axisLine:{show:false},axisTick:tk(xMin,2),axisLabel:{show:false}}));
  xAxes.push(Object.assign({},xb,{position:'top',axisLine:line,axisTick:tk(p.xticks,4),axisLabel:{show:false}}));
  xAxes.push(Object.assign({},xb,{position:'top',axisLine:{show:false},axisTick:tk(xMin,2),axisLabel:{show:false}}));
  if(p.vel){
    const l0=p.vel;
    xAxes.push(Object.assign({},base,{position:'top',min:C_KMS*(p.xmin/l0-1),max:C_KMS*(p.xmax/l0-1),axisLine:{show:false},axisTick:{show:false},
      axisLabel:{show:true,customValues:VEL_TICKS,margin:p.vm,fontSize:p.vfs,color:BLACK,fontFamily:FONT,formatter:v=>String(Math.round(v))},
      name:'\u0394v\u1d63 [km s\u207b\u00b9]',nameLocation:'middle',nameGap:p.vng,nameTextStyle:{fontSize:p.vfs,color:BLACK,fontFamily:FONT}}));
  }
  const yi=yAxes.length;
  yAxes.push(Object.assign({},yb,{position:'left',axisLine:line,axisTick:tk(p.yticks,4),axisLabel:{show:true,customValues:p.yticks,margin:p.ym||4,fontSize:p.yfs||11,color:BLACK,fontFamily:FONT,formatter:f1}}));
  yAxes.push(Object.assign({},yb,{position:'left',axisLine:{show:false},axisTick:tk(yMin,2),axisLabel:{show:false}}));
  yAxes.push(Object.assign({},yb,{position:'right',axisLine:line,axisTick:tk(p.yticks,4),axisLabel:{show:false}}));
  yAxes.push(Object.assign({},yb,{position:'right',axisLine:{show:false},axisTick:tk(yMin,2),axisLabel:{show:false}}));
  return {xi:xi,yi:yi,si:-1};
}
function ln(P,data,color,width,type,extra){
  if(P.si<0) P.si=series.length;
  series.push(Object.assign({type:'line',xAxisIndex:P.xi,yAxisIndex:P.yi,data:data,showSymbol:false,symbol:'none',
    lineStyle:{color:color,width:width,type:type||'solid'},itemStyle:{color:color},silent:true,z:3,connectNulls:false,animation:false},extra||{}));
}
function note(P,x,y,text,fs,align){NOTES.push({P:P,x:x,y:y,text:text,fs:fs,align:align||'center'});}
const DOT={type:[1.5,1.5],color:BLACK,width:1};
const DASHDOT={type:[6,2,1.5,2],color:'#555',width:1};
function vmark(vals,style,zero){
  const d=vals.map(v=>({xAxis:v}));
  if(zero) d.push({yAxis:0,lineStyle:{type:[6,2,1.5,2],color:'#888',width:0.8}});
  return {silent:true,symbol:['none','none'],label:{show:false},lineStyle:style,data:d,animation:false};
}
const smooth={smooth:0.35};

// Panel (a)
const PA=addPanel({left:35,top:39,width:774,height:232,xmin:4391,xmax:5822,xticks:A_XTICKS,xminor:20,ymin:0.6,ymax:2.104,yticks:A_YTICKS,yminor:0.1,
  xlabel:true,xfs:13,xm:3,xng:13,xnfs:13,yfs:13,ym:5});
ln(PA,A_FLUX,BLACK,1.3,'solid',{markArea:{silent:true,itemStyle:{color:'#e8e8e8'},label:{show:false},data:A_MASKS.map(m=>[{xAxis:m[0]},{xAxis:m[1]}])},markLine:vmark(A_LINES,DOT)});
ln(PA,A_CONT,'#999999',2,[8,5],smooth);
ln(PA,A_FE,GREEN,2.2,'solid',smooth);
ln(PA,A_FE_L,GREEN,2.6,[2.5,4],smooth);
ln(PA,A_FE_R,GREEN,2.6,[2.5,4],smooth);
note(PA,4426,1.97,'(a)',13);
note(PA,4862,1.935,'H{i|\u03b2}',14);
note(PA,4965,1.582,'[O III]',13);
note(PA,5014,1.725,'[O III]',13);

// Panel (b)
const PB=addPanel({left:867,top:32,width:325,height:205,xmin:4700,xmax:5125,xticks:B_XTICKS,xminor:10,ymin:-0.097,ymax:0.908,yticks:B_YTICKS,yminor:0.05,
  xlabel:false,yfs:12,ym:4,vel:4862.68,vfs:11,vm:3,vng:15});
const PBr=addPanel({left:867,top:243,width:325,height:36,xmin:4700,xmax:5125,xticks:B_XTICKS,xminor:10,ymin:-0.115,ymax:0.118,yticks:RES_YTICKS,yminor:0.05,
  xlabel:true,xfs:11,xm:3,xng:19,xnfs:11,yfs:12,ym:4});
ln(PB,B_BLUE0,BLUE,1.5);
ln(PB,B_BLUE1,BLUE,1.5,'solid',smooth);
ln(PB,B_BLUE2,BLUE,1.5,'solid',smooth);
ln(PB,B_BLUE3,BLUE,1.5,'solid',smooth);
ln(PB,B_OIII,ORANGE,1.5,'solid',smooth);
ln(PB,B_FE,GREEN,1.5,'solid',smooth);
ln(PB,B_HBETA,BLACK,1.6,'solid',smooth);
ln(PB,B_FLUX,BLACK,1.1,'solid',{markLine:vmark(B_LINES,DASHDOT)});
ln(PB,B_MODEL,PINK,1.6,[6,3],smooth);
ln(PBr,B_RESID,BLACK,1,'solid',{markLine:vmark(B_LINES,DASHDOT,true)});
note(PB,4728,0.79,'(b)',14);
note(PB,4865,0.839,'H{i|\u03b2}',12,'left');
note(PB,5008,0.46,'[O III]',12);
note(PB,5117,0.835,'{i|\u03c7}\u00b2 = 0.998',15,'right');

// Panel (c)
const PC=addPanel({left:36,top:336,width:1131,height:186,xmin:1250,xmax:2100,xticks:C_XTICKS,xminor:10,ymin:0.3,ymax:2.3,yticks:C_YTICKS,yminor:0.1,
  xlabel:true,xfs:15,xm:7,xng:32,xnfs:16,yfs:15,ym:5});
ln(PC,C_FLUX,BLACK,1.2,'solid',{markLine:vmark(C_LINES,DOT)});
ln(PC,C_BLEND_CONT,PURPLE,2.5,[8,5],{name:'1900\u00c5 blend'});
ln(PC,C_CIV_CONT,PINK,2.5,[8,5],{name:'CIV 1549\u00c5'});
ln(PC,C_SIIV_CONT,ORANGE,2.5,[8,5],{name:'SiIV 1349\u00c5'});
note(PC,1267,2.04,'(c)',13);
note(PC,1388,1.80,'Si IV',15);
note(PC,1545.5,1.80,'C IV',15);
note(PC,1637,1.40,'He II',15);
note(PC,1847,1.30,'Al III',15);
note(PC,1884,1.71,'Si III]',15);
note(PC,1907,1.50,'C III]',15);

// Panel (d)
const PD=addPanel({left:33,top:618,width:348,height:159,xmin:1340,xmax:1451,xticks:D_XTICKS,xminor:5,ymin:-0.054,ymax:0.555,yticks:DEF_YTICKS,yminor:0.02,
  xlabel:false,yfs:11,ym:4,vel:1393.76,vfs:10.5,vm:2.5,vng:13});
const PDr=addPanel({left:33,top:781,width:348,height:27,xmin:1340,xmax:1451,xticks:D_XTICKS,xminor:5,ymin:-0.108,ymax:0.111,yticks:RES_YTICKS,yminor:0.05,
  xlabel:true,xfs:11,xm:4,xng:17,xnfs:10.5,yfs:11,ym:4});
ln(PD,D_ABS,BROWN,1.5);
ln(PD,D_BLUE,BLUE,1.5,'solid',smooth);
ln(PD,D_SIIV1,BLACK,1.6,'solid',smooth);
ln(PD,D_SIIV2,BLACK,1.6,'solid',smooth);
ln(PD,D_FLUX,BLACK,1.1,'solid',{markLine:vmark(D_LINES,DASHDOT)});
ln(PD,D_MODEL,PINK,1.6,[6,3]);
ln(PDr,D_RESID,BLACK,1,'solid',{markLine:vmark(D_LINES,DASHDOT,true)});
note(PD,1348.5,0.48,'(d)',15);
note(PD,1448.5,0.494,'{i|\u03c7}\u00b2 = 1.011',15,'right');

// Panel (e)
const PE=addPanel({left:430,top:618,width:347,height:159,xmin:1460,xmax:1700,xticks:E_XTICKS,xminor:10,ymin:-0.054,ymax:0.555,yticks:DEF_YTICKS,yminor:0.02,
  xlabel:false,yfs:11,ym:4,vel:1549.06,vfs:10.5,vm:2.5,vng:13});
const PEr=addPanel({left:430,top:781,width:347,height:27,xmin:1460,xmax:1700,xticks:E_XTICKS,xminor:10,ymin:-0.108,ymax:0.111,yticks:RES_YTICKS,yminor:0.05,
  xlabel:true,xfs:11,xm:4,xng:17,xnfs:10.5,yfs:11,ym:4});
ln(PE,E_BASE,BLUE,1.5);
ln(PE,E_BLUE1,BLUE,1.5,'solid',smooth);
ln(PE,E_BLUE2,BLUE,1.5,'solid',smooth);
ln(PE,E_NIV,BLACK,1.6,'solid',smooth);
ln(PE,E_CIV,BLACK,1.6,'solid',smooth);
ln(PE,E_HEII,BLACK,1.6,'solid',smooth);
ln(PE,E_OIII,BLACK,1.6,'solid',smooth);
ln(PE,E_FLUX,BLACK,1.1,'solid',{markLine:vmark(E_LINES,DASHDOT)});
ln(PE,E_MODEL,PINK,1.6,[6,3]);
ln(PEr,E_RESID,BLACK,1,'solid',{markLine:vmark(E_LINES,DASHDOT,true)});
note(PE,1476.4,0.48,'(e)',15);
note(PE,1694,0.494,'{i|\u03c7}\u00b2 = 1.025',15,'right');

// Panel (f)
const PF=addPanel({left:839,top:618,width:347,height:159,xmin:1794.1,xmax:2021.5,xticks:F_XTICKS,xminor:10,ymin:-0.054,ymax:0.555,yticks:DEF_YTICKS,yminor:0.02,
  xlabel:false,yfs:11,ym:4,vel:1857.0,vfs:10.5,vm:2.5,vng:13});
const PFr=addPanel({left:839,top:781,width:347,height:27,xmin:1794.1,xmax:2021.5,xticks:F_XTICKS,xminor:10,ymin:-0.108,ymax:0.111,yticks:RES_YTICKS,yminor:0.05,
  xlabel:true,xfs:11,xm:4,xng:17,xnfs:10.5,yfs:11,ym:4});
ln(PF,F_ABS,BROWN,1.5);
[F_G1,F_G2,F_G3,F_G4,F_G5].forEach(g=>ln(PF,g,GREEN,1.5,'solid',smooth));
[F_C1,F_C2,F_C3,F_C4,F_C5].forEach(c=>ln(PF,c,BLACK,1.6,'solid',smooth));
ln(PF,F_FLUX,BLACK,1.1,'solid',{markLine:vmark(F_LINES,DASHDOT)});
ln(PF,F_MODEL,PINK,1.6,[6,3],smooth);
ln(PFr,F_RESID,BLACK,1,'solid',{markLine:vmark(F_LINES,DASHDOT,true)});
note(PF,1807.7,0.48,'(f)',15);
note(PF,2016.4,0.494,'{i|\u03c7}\u00b2 = 0.992',15,'right');

const chart=echarts.init(document.getElementById('c'),null,{renderer:'canvas'});
chart.setOption({
  animation:false,
  backgroundColor:'#fff',
  textStyle:{fontFamily:FONT},
  grid:grids,xAxis:xAxes,yAxis:yAxes,series:series,
  legend:{show:true,data:['1900\u00c5 blend','CIV 1549\u00c5','SiIV 1349\u00c5'],orient:'vertical',left:985,top:344,itemWidth:50,itemHeight:14,itemGap:12,
    padding:[8,10],backgroundColor:'#fff',borderColor:'#cccccc',borderWidth:1,borderRadius:4,selectedMode:false,
    itemStyle:{color:'rgba(0,0,0,0)',borderWidth:0,opacity:0},
    textStyle:{fontSize:15,color:BLACK,fontFamily:FONT}}
});
// text annotations anchored at data coordinates of each panel
const gfx=NOTES.map(n=>{
  const pt=chart.convertToPixel({seriesIndex:n.P.si},[n.x,n.y]);
  return {type:'text',x:pt[0],y:pt[1],z:100,silent:true,
    style:{text:n.text,fill:BLACK,fontSize:n.fs,fontFamily:FONT,align:n.align,verticalAlign:'middle',rich:rich(n.fs)}};
});
chart.setOption({graphic:gfx});
</script></body></html>
